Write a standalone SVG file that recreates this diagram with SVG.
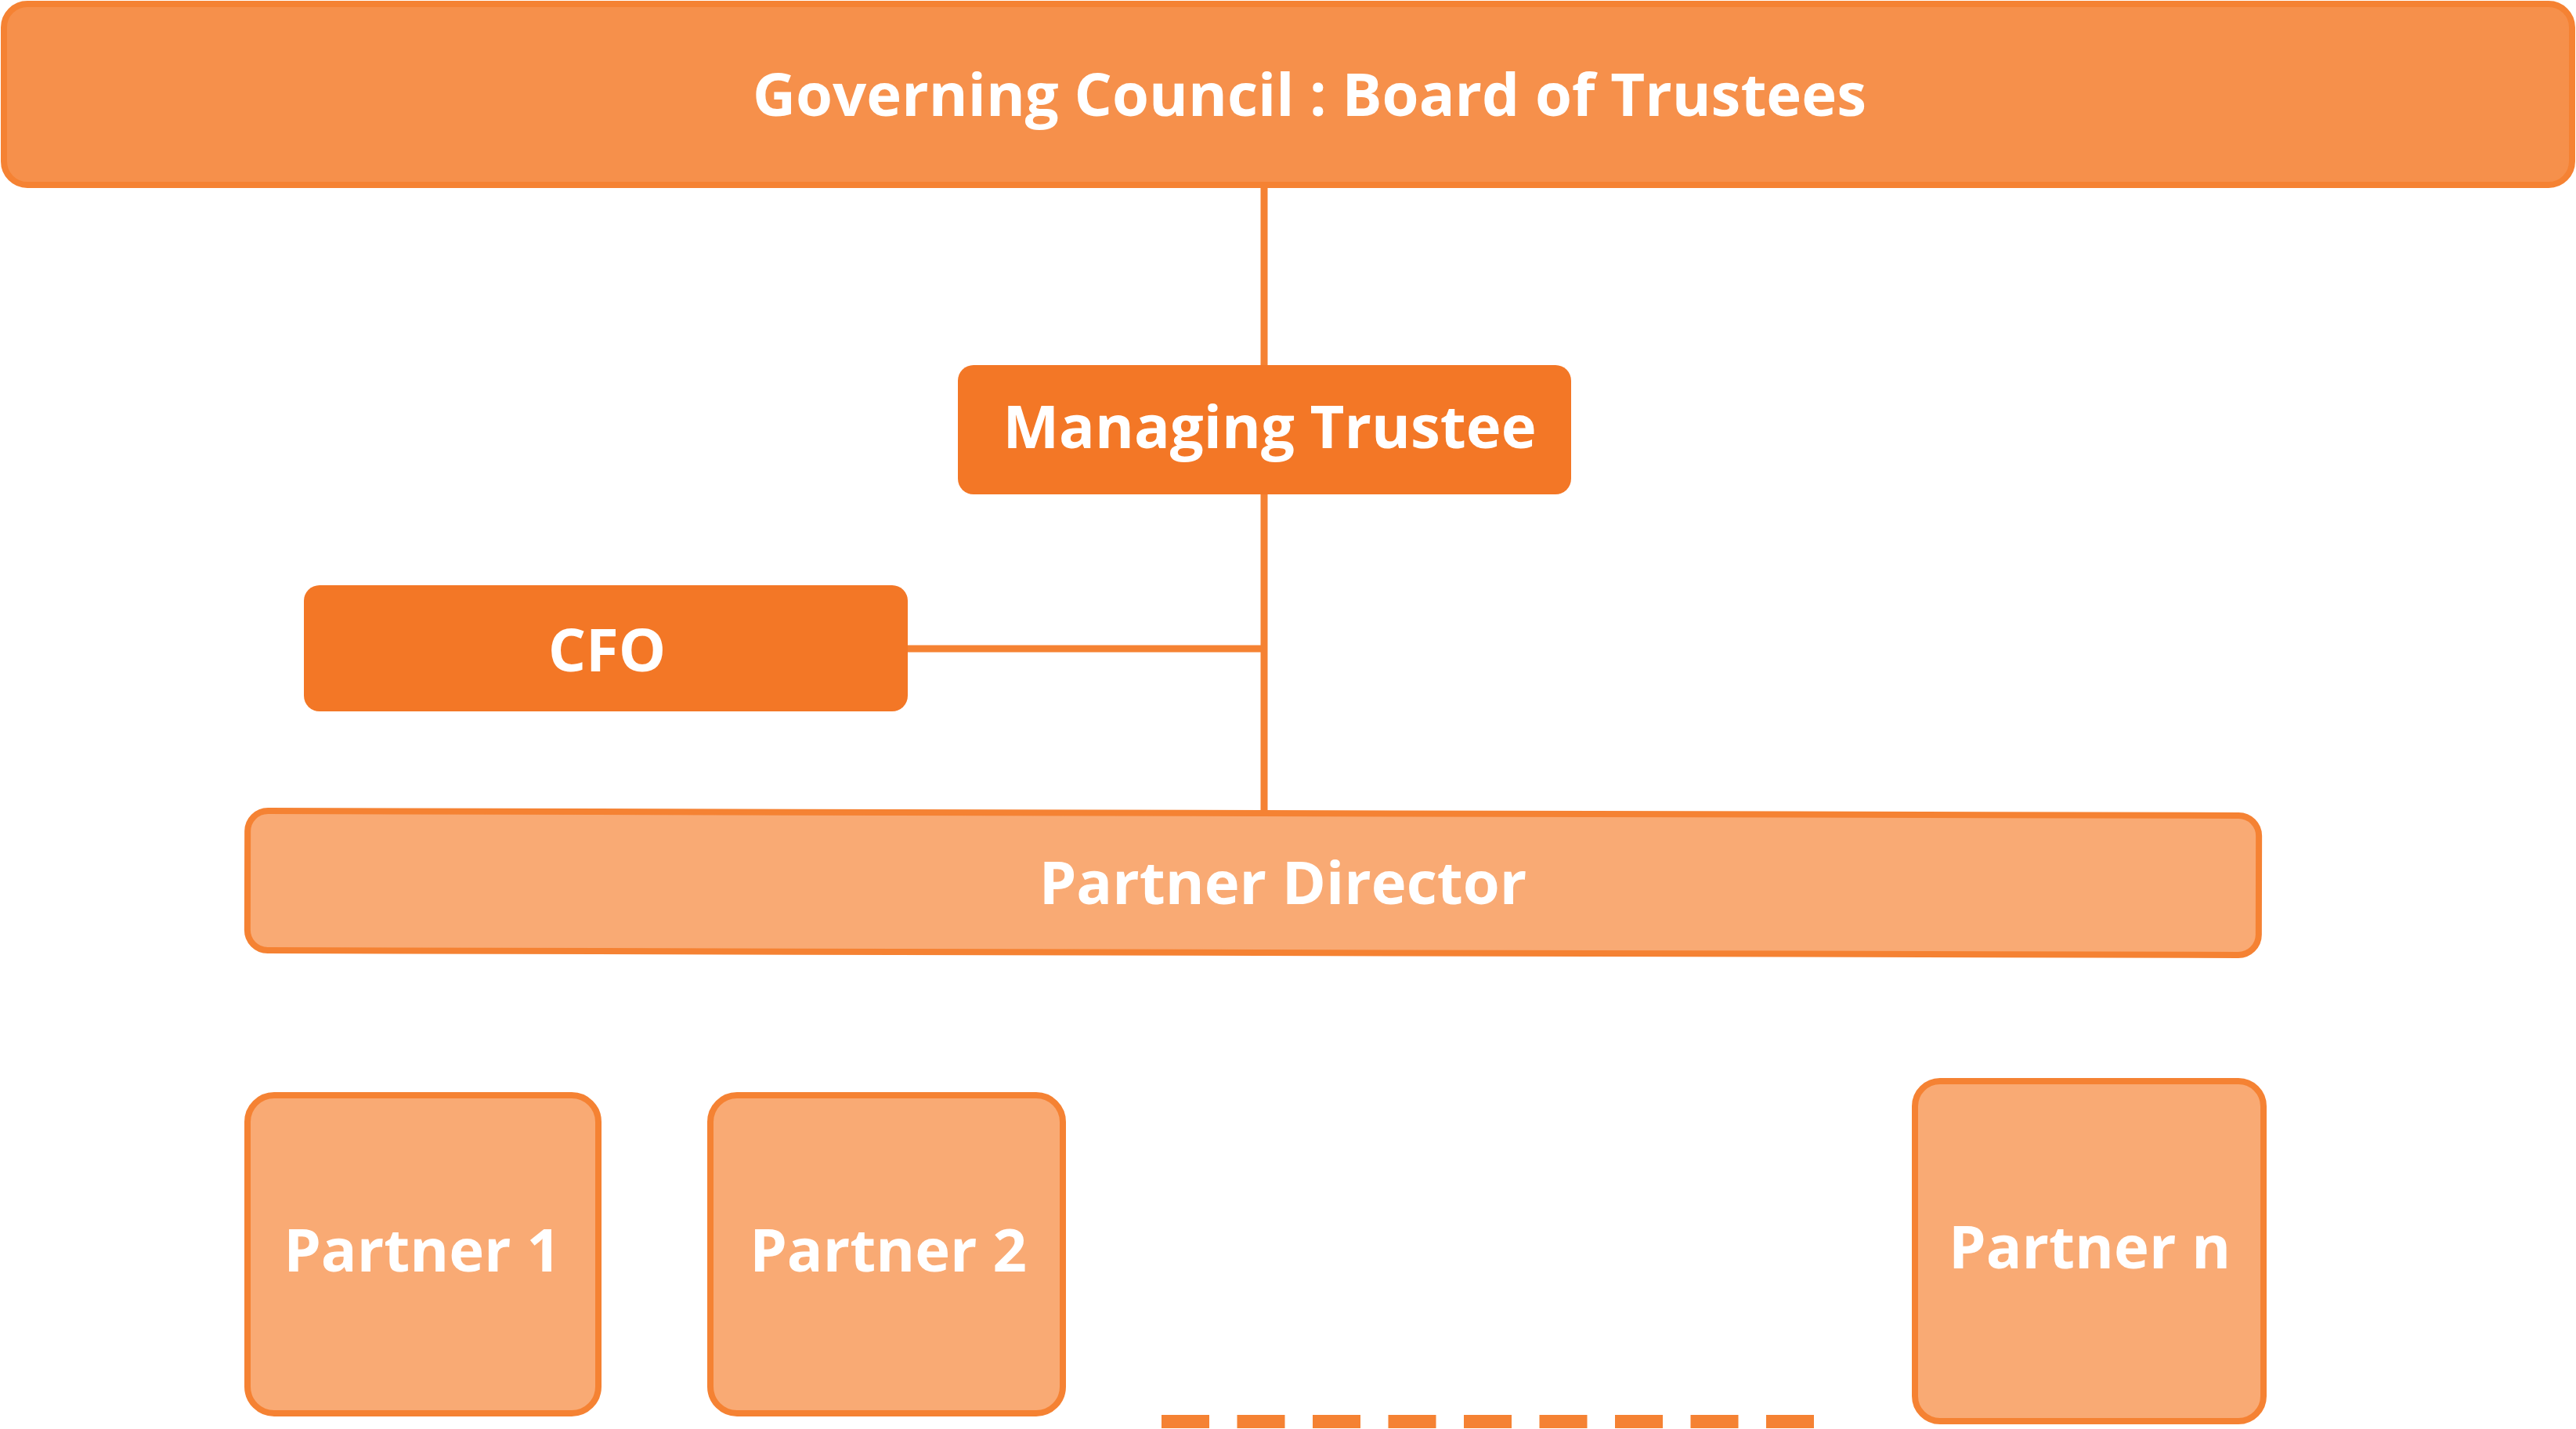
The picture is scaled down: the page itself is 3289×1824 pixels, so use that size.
<svg xmlns="http://www.w3.org/2000/svg" width="3289" height="1824" viewBox="0 0 3289 1824">
<style>
.lbl{font-family:"Open Sans","Liberation Sans",sans-serif;font-weight:700;font-size:76px;fill:#ffffff;text-anchor:middle}
.conn{stroke:#F58233;stroke-width:9;fill:none}
.top{fill:#F6904B;stroke:#F58233;stroke-width:8}
.dark{fill:#F37726}
.light{fill:#F9AA74;stroke:#F58233;stroke-width:8}
</style>
<rect width="3289" height="1824" fill="#ffffff"/>
<g id="connectors">
<line class="conn" x1="1614" y1="236" x2="1614" y2="1036"/>
<line class="conn" x1="1155" y1="828" x2="1614" y2="828"/>
<line x1="1483" y1="1814.5" x2="2316" y2="1814.5" stroke="#F58233" stroke-width="17" stroke-dasharray="61 35.5"/>
</g>
<g id="governing-council">
<rect class="top" x="5" y="5" width="3279" height="231" rx="30"/>
<text class="lbl" x="1672" y="148">Governing Council : Board of Trustees</text>
</g>
<g id="managing-trustee">
<rect class="dark" x="1223" y="466" width="783" height="165" rx="20"/>
<text class="lbl" x="1621" y="572">Managing Trustee</text>
</g>
<g id="cfo">
<rect class="dark" x="388" y="747" width="771" height="161" rx="20"/>
<text class="lbl" x="775" y="857">CFO</text>
</g>
<g id="partner-director">
<rect class="light" x="316" y="1038" width="2568" height="178" rx="26" transform="rotate(0.1335 1600 1127)"/>
<text class="lbl" x="1638" y="1154">Partner Director</text>
</g>
<g id="partner-1">
<rect class="light" x="316" y="1398" width="448" height="406" rx="34"/>
<text class="lbl" x="539" y="1623">Partner 1</text>
</g>
<g id="partner-2">
<rect class="light" x="907" y="1398" width="450" height="406" rx="34"/>
<text class="lbl" x="1134" y="1623">Partner 2</text>
</g>
<g id="partner-n">
<rect class="light" x="2445" y="1380" width="445" height="434" rx="32"/>
<text class="lbl" x="2668" y="1619">Partner n</text>
</g>
</svg>
